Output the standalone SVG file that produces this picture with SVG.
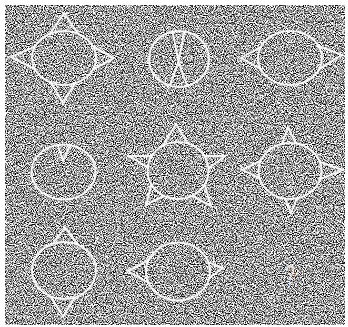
<svg xmlns="http://www.w3.org/2000/svg" width="348" height="327" viewBox="0 0 348 327">
<style>
.ln{fill:none;stroke:#fff;stroke-width:2;stroke-linejoin:miter;stroke-opacity:0.9}
.q{font-family:"Liberation Sans","DejaVu Sans",sans-serif;font-size:30px;fill:#fff;fill-opacity:0.8}
</style>
<defs>
<filter id="noise" filterUnits="userSpaceOnUse" x="5" y="5" width="340" height="320" color-interpolation-filters="sRGB">
<feTurbulence type="fractalNoise" baseFrequency="0.9" numOctaves="2" seed="7" result="n"/>
<feColorMatrix in="n" type="matrix" values="3 0 0 0 -0.88  3 0 0 0 -0.88  3 0 0 0 -0.88  0 0 0 0 1"/>
</filter>
<mask id="m1" maskUnits="userSpaceOnUse" x="0" y="0" width="348" height="327"><rect width="348" height="327" fill="#fff"/><ellipse cx="64" cy="58" rx="32" ry="27" fill="#000"/></mask>
<mask id="m2" maskUnits="userSpaceOnUse" x="0" y="0" width="348" height="327"><ellipse cx="179" cy="59" rx="30" ry="28" fill="#fff"/></mask>
<mask id="m3" maskUnits="userSpaceOnUse" x="0" y="0" width="348" height="327"><rect width="348" height="327" fill="#fff"/><ellipse cx="290" cy="58" rx="32" ry="27" fill="#000"/></mask>
<mask id="m4" maskUnits="userSpaceOnUse" x="0" y="0" width="348" height="327"><ellipse cx="63.5" cy="172" rx="32" ry="27.5" fill="#fff"/></mask>
<mask id="m5" maskUnits="userSpaceOnUse" x="0" y="0" width="348" height="327"><rect width="348" height="327" fill="#fff"/><ellipse cx="178" cy="170.5" rx="30.5" ry="28.5" fill="#000"/></mask>
<mask id="m6" maskUnits="userSpaceOnUse" x="0" y="0" width="348" height="327"><rect width="348" height="327" fill="#fff"/><ellipse cx="290" cy="171" rx="31.5" ry="28" fill="#000"/></mask>
<mask id="m7" maskUnits="userSpaceOnUse" x="0" y="0" width="348" height="327"><rect width="348" height="327" fill="#fff"/><ellipse cx="64" cy="270.5" rx="32" ry="28.5" fill="#000"/></mask>
<mask id="m8" maskUnits="userSpaceOnUse" x="0" y="0" width="348" height="327"><rect width="348" height="327" fill="#fff"/><ellipse cx="178" cy="271.5" rx="32" ry="29" fill="#000"/></mask>
</defs>
<rect x="0" y="0" width="348" height="327" fill="#fff"/>
<rect x="5" y="5" width="340" height="320" fill="#8c8c8c" filter="url(#noise)"/>

<g id="fig1">
<g mask="url(#m1)">
<polygon class="ln" points="64,13 41.6,46.1 86.4,46.1"/>
<polygon class="ln" points="63,103 43.8,70.5 82.2,71.6"/>
<polygon class="ln" points="11,57 49.4,40.4 49.4,76.8"/>
<polygon class="ln" points="114,58 80.4,39.8 80.4,76.2"/>
</g>
<ellipse class="ln" cx="64" cy="58" rx="32" ry="27"/>
</g>

<g id="fig2">
<g mask="url(#m2)">
<polygon class="ln" points="178.5,62 170.5,20 186.5,20"/>
<polygon class="ln" points="178.5,62 166,96 191,96"/>
</g>
<ellipse class="ln" cx="179" cy="59" rx="30" ry="28"/>
</g>

<g id="fig3">
<g mask="url(#m3)">
<polygon class="ln" points="241,58 272.7,40.4 272.7,75.6"/>
<polygon class="ln" points="342,55 304.7,40.6 305.5,77.4"/>
</g>
<ellipse class="ln" cx="290" cy="58" rx="32" ry="27"/>
</g>

<g id="fig4">
<g mask="url(#m4)">
<polygon class="ln" points="63,161 54.5,135 74.5,135"/>
</g>
<ellipse class="ln" cx="63.5" cy="172" rx="32" ry="27.5"/>
</g>

<g id="fig5">
<g mask="url(#m5)">
<polygon class="ln" points="176,124 156.8,156 195.2,156"/>
<polygon class="ln" points="129,156 165.8,156 165.8,178.4"/>
<polygon class="ln" points="225,156 191.4,156 193,180"/>
<polygon class="ln" points="146,205 155.6,169.8 176.4,189"/>
<polygon class="ln" points="211,206 199.8,169.2 180.6,190"/>
</g>
<ellipse class="ln" cx="178" cy="170.5" rx="30.5" ry="28.5"/>
</g>

<g id="fig6">
<g mask="url(#m6)">
<polygon class="ln" points="288,127 278.4,154.2 300.8,154.2"/>
<polygon class="ln" points="242,170 270.8,155.6 270.8,182.8"/>
<polygon class="ln" points="343,170 306.2,157.2 306.2,184.4"/>
<polygon class="ln" points="291,213 281.4,189 300.6,189"/>
</g>
<ellipse class="ln" cx="290" cy="171" rx="31.5" ry="28"/>
</g>

<g id="fig7">
<g mask="url(#m7)">
<polygon class="ln" points="65,227.5 45.8,253.1 84.2,253.1"/>
<polygon class="ln" points="63,316.5 42.2,282.9 83.8,282.9"/>
</g>
<ellipse class="ln" cx="64" cy="270.5" rx="32" ry="28.5"/>
</g>

<g id="fig8">
<g mask="url(#m8)">
<polygon class="ln" points="128,271 158.4,255 158.4,288.6"/>
<polygon class="ln" points="223,268 199,258.4 199,285.6"/>
</g>
<ellipse class="ln" cx="178" cy="271.5" rx="32" ry="29"/>
</g>

<g id="fig9">
<text class="q" text-anchor="middle" transform="translate(290,285) scale(0.6,1)">?</text>
</g>
</svg>
